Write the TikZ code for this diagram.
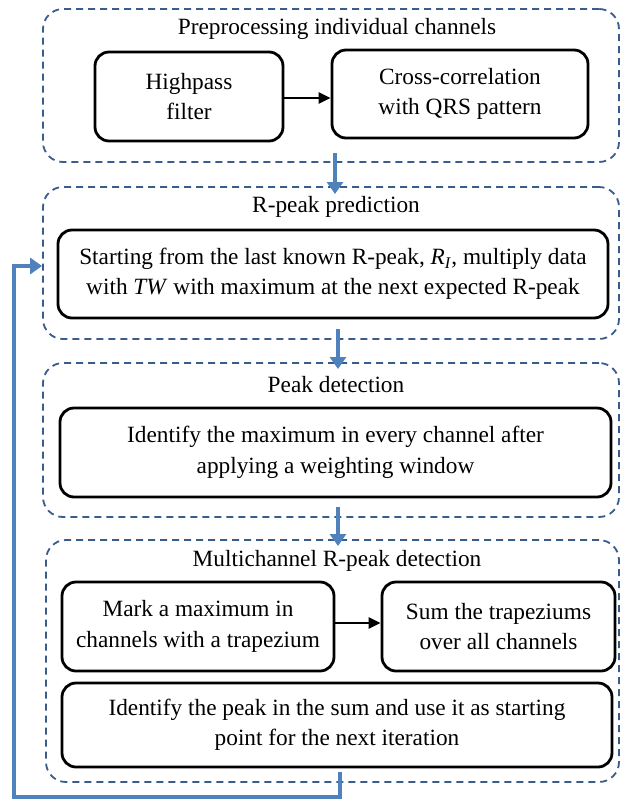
\documentclass[tikz,border=0pt]{standalone}
\usepackage{fontspec}
\setmainfont{Liberation Serif}
\usetikzlibrary{arrows.meta}
\definecolor{dashblue}{RGB}{56,93,138}
\definecolor{arrowblue}{RGB}{79,129,189}
\begin{document}
\begin{tikzpicture}[x=1pt,y=-1pt,
  group/.style={draw=dashblue, line width=1.8pt, dash pattern=on 7pt off 5pt,
    rounded corners=20pt, inner sep=0pt},
  stepbox/.style={draw=black, line width=2.8pt, rounded corners=14pt,
    align=center, inner sep=0pt, font=\fontsize{23.3}{30.5}\selectfont},
  title/.style={font=\fontsize{23.3}{30.5}\selectfont, inner sep=0pt},
  bluearrow/.style={draw=arrowblue, line width=4.5pt,
    -{Triangle[width=16pt,length=12pt]}},
  blackarrow/.style={draw=black, line width=2.8pt,
    -{Triangle[width=11pt,length=12pt]}}]
\useasboundingbox (0,0) rectangle (622,801);
\fill[white] (0,0) rectangle (622,801);

% group boxes
\node[group, minimum width=576pt, minimum height=153pt] (g1) at (331,85.5) {};
\node[group, minimum width=576pt, minimum height=152pt] (g2) at (331,263) {};
\node[group, minimum width=576pt, minimum height=154pt] (g3) at (331,440) {};
\node[group, minimum width=573pt, minimum height=242pt] (g4) at (332.5,661) {};

% titles
\node[title] (t1) at (337,29) {Preprocessing individual channels};
\node[title] (t2) at (336,207) {R-peak prediction};
\node[title] (t3) at (336,385) {Peak detection};
\node[title] (t4) at (337,561) {Multichannel R-peak detection};

% inner boxes
\node[stepbox, minimum width=188pt, minimum height=89pt] (hp) at (189,96.5) {Highpass\\filter};
\node[stepbox, minimum width=256pt, minimum height=88pt] (cc) at (460,94) {Cross-correlation\\with QRS pattern};
\node[stepbox, minimum width=550pt, minimum height=88pt] (rp) at (333,274)
  {Starting from the last known R-peak, \textit{R}\textsubscript{\textit{I}}, multiply data\\
   with \textit{TW} with maximum at the next expected R-peak};
\node[stepbox, minimum width=551pt, minimum height=89pt] (pd) at (335.5,452.5)
  {Identify the maximum in every channel after\\applying a weighting window};
\node[stepbox, minimum width=272pt, minimum height=89pt] (mk) at (198,626.5)
  {Mark a maximum in\\channels with a trapezium};
\node[stepbox, minimum width=233pt, minimum height=89pt] (sm) at (498.5,626.5)
  {Sum the trapeziums\\over all channels};
\node[stepbox, minimum width=550pt, minimum height=84pt] (id) at (337,725)
  {Identify the peak in the sum and use it as starting\\point for the next iteration};

% black arrows
\draw[blackarrow] (hp.east |- 0,98) -- (cc.west |- 0,98);
\draw[blackarrow] (mk.east |- 0,623) -- (sm.west |- 0,623);

% blue arrows
\coordinate (a1s) at (335,153);
\coordinate (a1e) at (335,194);
\coordinate (a2s) at (338,329);
\coordinate (a2e) at (338,369);
\coordinate (a3s) at (338,507);
\coordinate (a3e) at (338,546);
\draw[bluearrow] (a1s) -- (a1e);
\draw[bluearrow] (a2s) -- (a2e);
\draw[bluearrow] (a3s) -- (a3e);

% feedback loop
\coordinate (fbs) at (340,772);
\coordinate (fb1) at (340,797);
\coordinate (fb2) at (14,797);
\coordinate (fb3) at (14,266);
\draw[bluearrow] (fbs) -- (fb1) -- (fb2) -- (fb3) -- (g2.west |- fb3);
\end{tikzpicture}
\end{document}
